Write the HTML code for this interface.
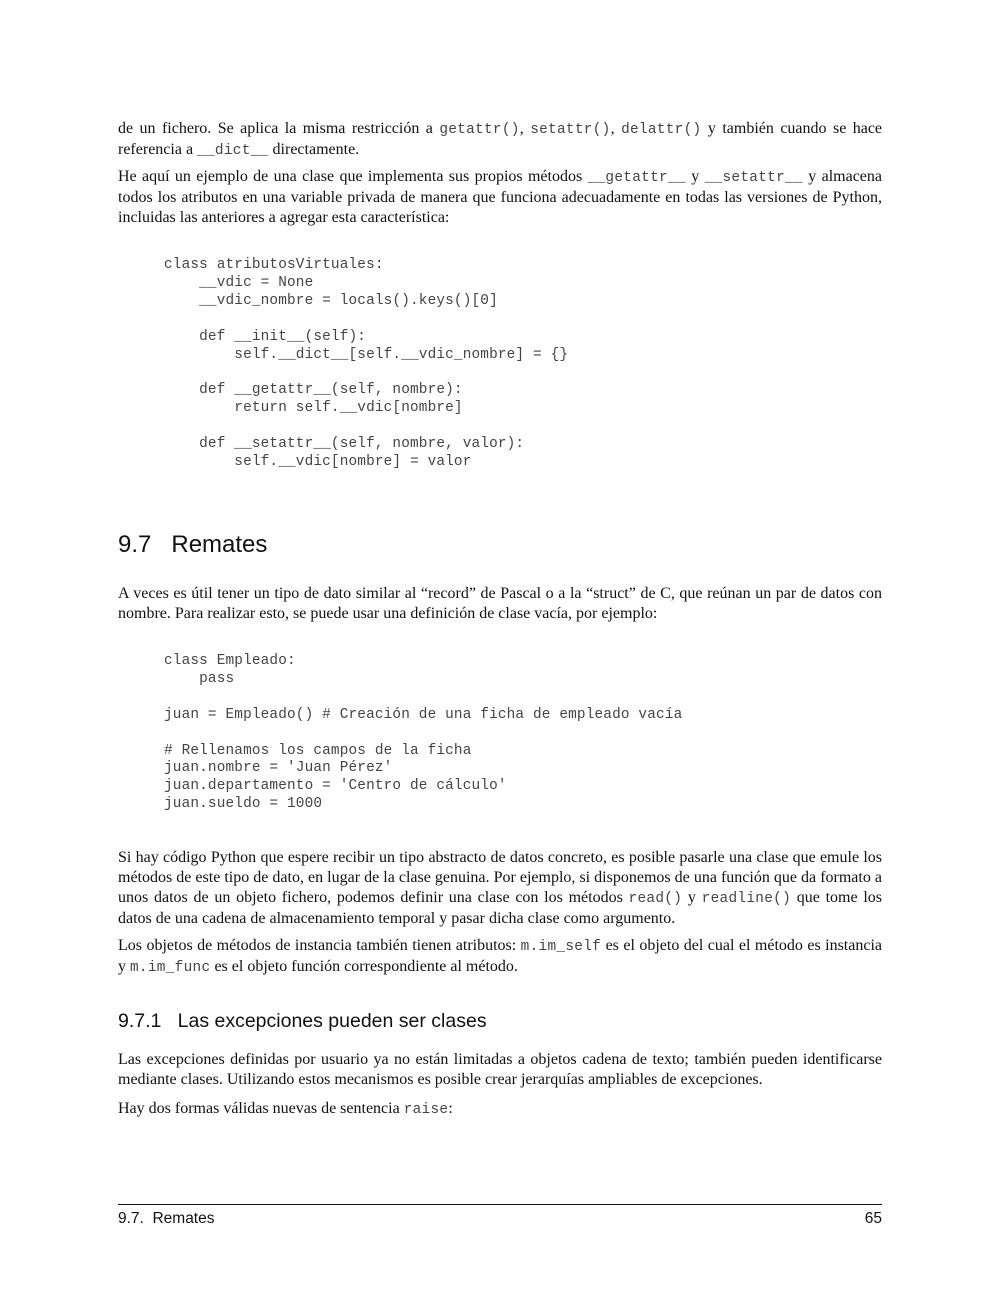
<!DOCTYPE html>
<html><head><meta charset="utf-8"><style>
body{margin:0;background:#fff;width:1000px;height:1294px;position:relative;overflow:hidden}
.p{position:absolute;left:118px;width:764px;font-family:"Liberation Serif",serif;font-size:16px;line-height:20px;color:#111;text-align:justify}
.c{font-family:"Liberation Mono",monospace;font-size:14.4px;color:#444;letter-spacing:0.3px}
pre{position:absolute;left:164px;margin:0;font-family:"Liberation Mono",monospace;font-size:14.4px;line-height:17.9px;color:#444;letter-spacing:0.15px}
.h{position:absolute;left:118px;font-family:"Liberation Sans",sans-serif;color:#111}
</style></head><body>
<div class="p" style="top:119px">de un fichero. Se aplica la misma restricción a <span class="c">getattr()</span>, <span class="c">setattr()</span>, <span class="c">delattr()</span> y también cuando se hace referencia a <span class="c">__dict__</span> directamente.</div>
<div class="p" style="top:167px">He aquí un ejemplo de una clase que implementa sus propios métodos <span class="c">__getattr__</span> y <span class="c">__setattr__</span> y almacena todos los atributos en una variable privada de manera que funciona adecuadamente en todas las versiones de Python, incluidas las anteriores a agregar esta característica:</div>
<pre style="top:257px">class atributosVirtuales:
    __vdic = None
    __vdic_nombre = locals().keys()[0]

    def __init__(self):
        self.__dict__[self.__vdic_nombre] = {}

    def __getattr__(self, nombre):
        return self.__vdic[nombre]

    def __setattr__(self, nombre, valor):
        self.__vdic[nombre] = valor</pre>
<div class="h" style="top:531px;font-size:24px">9.7&nbsp;&nbsp;&nbsp;Remates</div>
<div class="p" style="top:584px">A veces es útil tener un tipo de dato similar al “record” de Pascal o a la “struct” de C, que reúnan un par de datos con nombre. Para realizar esto, se puede usar una definición de clase vacía, por ejemplo:</div>
<pre style="top:653px">class Empleado:
    pass

juan = Empleado() # Creación de una ficha de empleado vacía

# Rellenamos los campos de la ficha
juan.nombre = 'Juan Pérez'
juan.departamento = 'Centro de cálculo'
juan.sueldo = 1000</pre>
<div class="p" style="top:848px">Si hay código Python que espere recibir un tipo abstracto de datos concreto, es posible pasarle una clase que emule los métodos de este tipo de dato, en lugar de la clase genuina. Por ejemplo, si disponemos de una función que da formato a unos datos de un objeto fichero, podemos definir una clase con los métodos <span class="c">read()</span> y <span class="c">readline()</span> que tome los datos de una cadena de almacenamiento temporal y pasar dicha clase como argumento.</div>
<div class="p" style="top:936px">Los objetos de métodos de instancia también tienen atributos: <span class="c">m.im_self</span> es el objeto del cual el método es instancia y <span class="c">m.im_func</span> es el objeto función correspondiente al método.</div>
<div class="h" style="top:1010px;font-size:19.5px">9.7.1&nbsp;&nbsp;&nbsp;Las excepciones pueden ser clases</div>
<div class="p" style="top:1050px">Las excepciones definidas por usuario ya no están limitadas a objetos cadena de texto; también pueden identificarse mediante clases. Utilizando estos mecanismos es posible crear jerarquías ampliables de excepciones.</div>
<div class="p" style="top:1099px">Hay dos formas válidas nuevas de sentencia <span class="c">raise</span>:</div>
<div style="position:absolute;left:118px;width:764px;top:1204px;border-top:1.3px solid #111"></div>
<div class="h" style="top:1210px;font-size:15.5px">9.7.&nbsp;&nbsp;Remates</div>
<div class="h" style="top:1210px;font-size:15.5px;left:auto;right:118px">65</div>
</body></html>
